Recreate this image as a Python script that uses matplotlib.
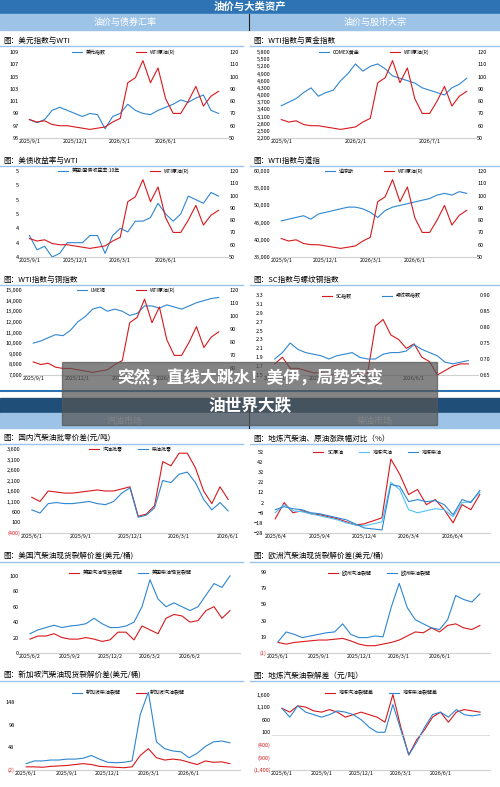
import matplotlib
matplotlib.use("Agg")
import matplotlib.pyplot as plt
from matplotlib.patches import Rectangle
from matplotlib.ticker import FuncFormatter

plt.rcParams['font.family'] = ['Noto Sans CJK SC', 'DejaVu Sans']

RED = '#d7191c'; BLUE = '#2e86d1'; LBLUE = '#4fc3f7'
DARK = '#2e74b5'; LIGHT = '#9dc3e6'

# ---------------- data ----------------
top_ticks = ['2025/9/1', '2025/12/1', '2026/3/1', '2026/6/1']
top_tick_idx = [0, 6, 12, 18]
gold_ticks = ['2025/9/1', '2026/2/1', '2026/7/1']
gold_tick_idx = [0, 10, 20]
wti = [65, 63, 64, 61, 60, 60, 59, 58, 57, 58, 59, 63, 66, 95, 99, 113, 95, 107, 82, 70, 70, 80, 92, 76, 84, 88]
usd = [98, 97.5, 98, 99.5, 100, 99.5, 99, 98.5, 99, 98.8, 96.5, 98.5, 99, 100.5, 99.5, 99, 98.8, 99.5, 100, 100.5, 101.2, 100.8, 101.5, 102, 99.5, 99]
gold = [3550, 3700, 3850, 4100, 4300, 3950, 4100, 4200, 4600, 4900, 5300, 5000, 5200, 5300, 5100, 4800, 4700, 4600, 4500, 4300, 4200, 4100, 4000, 4300, 4450, 4700]
ust10 = [4.3, 4.1, 4.15, 4.0, 4.05, 4.2, 4.2, 4.2, 4.3, 4.3, 4.05, 4.3, 4.4, 4.35, 4.5, 4.5, 4.55, 4.75, 4.6, 4.5, 4.6, 4.85, 4.8, 4.75, 4.9, 4.85]
dow = [45500, 46000, 46500, 47000, 46000, 47500, 48000, 48500, 49000, 49500, 49500, 49000, 48000, 46500, 48500, 49500, 50000, 50500, 51000, 51500, 52000, 53000, 53500, 53000, 54000, 53500]
copper = [10000, 10200, 10500, 10800, 10700, 11200, 12000, 12500, 13200, 13400, 13000, 13200, 13000, 12600, 12800, 13500, 13500, 13300, 13600, 13400, 13200, 13500, 13800, 14000, 14200, 14300]
sc_idx = [1.75, 1.9, 1.65, 1.65, 1.6, 1.55, 1.55, 1.5, 1.5, 1.45, 1.5, 1.5, 1.55, 2.6, 2.75, 2.4, 2.3, 2.1, 2.2, 1.9, 1.8, 1.5, 1.6, 1.7, 1.75, 1.75]
rebar = [0.70, 0.72, 0.75, 0.73, 0.72, 0.715, 0.71, 0.70, 0.71, 0.715, 0.72, 0.705, 0.70, 0.70, 0.715, 0.72, 0.72, 0.725, 0.745, 0.73, 0.72, 0.71, 0.69, 0.685, 0.69, 0.695]

cn_gas = [1300, 1100, 1600, 1550, 1500, 1500, 1550, 1600, 1650, 1600, 1600, 1700, 1800, 400, 500, 900, 3000, 2800, 3400, 3400, 2700, 1600, 1000, 1800, 1200]
cn_dsl = [700, 550, 1000, 1050, 1000, 1000, 1050, 1100, 1000, 950, 1100, 1500, 1750, 350, 450, 800, 2100, 2000, 2400, 2500, 2000, 1200, 700, 1050, 650]

chg_sc = [-14, 2, -8, -6, -9, -10, -12, -14, -17, -20, -19, -16, -13, 45, 30, 10, 15, 0, 5, -5, -18, 0, -5, 10]
chg_gas = [-8, 0, -6, -7, -9, -11, -13, -15, -18, -20, -21, -19, -17, 22, 15, -5, -8, -6, -4, -5, -12, 2, 3, 12]
chg_dsl = [-5, -2, -4, -5, -8, -9, -11, -13, -15, -19, -23, -24, -25, 20, 18, 3, 5, 3, 4, 0, -10, 5, 2, 14]

us_ticks = ['2025/6/2', '2025/9/2', '2025/12/2', '2026/3/2', '2026/6/2']
eu_ticks = ['2025/6/1', '2025/9/1', '2025/12/1', '2026/3/1', '2026/6/1']
crack_tick_idx = [0, 5, 10, 15, 20]
us_gas = [18, 22, 22, 25, 20, 18, 18, 20, 18, 15, 17, 27, 27, 17, 35, 30, 25, 45, 50, 48, 40, 42, 55, 60, 45, 55]
us_dsl = [25, 30, 33, 36, 33, 35, 36, 38, 45, 38, 33, 33, 35, 40, 60, 95, 70, 60, 65, 60, 55, 60, 75, 90, 85, 100]
eu_gas = [12, 10, 12, 13, 14, 15, 15, 16, 17, 14, 10, 8, 8, 10, 12, 15, 20, 25, 24, 30, 25, 33, 35, 30, 28, 33]
eu_dsl = [13, 25, 22, 18, 20, 22, 24, 25, 35, 22, 18, 18, 20, 19, 55, 85, 55, 40, 35, 30, 28, 40, 70, 65, 62, 72]
sg_dsl = [12, 18, 18, 20, 20, 22, 22, 24, 30, 22, 15, 14, 15, 18, 120, 170, 60, 45, 40, 38, 25, 35, 50, 60, 62, 58]
sg_gas = [5, 5, 4, 6, 7, 8, 10, 12, 10, 6, 5, 4, 3, 5, 30, 45, 25, 20, 22, 20, 15, 10, 18, 15, 16, 12]
dl_gas = [1050, 900, 1150, 1100, 950, 900, 1000, 900, 700, 800, 900, 800, 700, 500, 1600, 300, -800, -200, 200, 700, 900, 500, 900, 1000, 950, 900]
dl_dsl = [1050, 700, 1150, 900, 800, 700, 800, 950, 900, 800, 600, 300, 100, 100, 1200, 200, -800, -300, 300, 800, 900, 700, 1000, 800, 750, 800]

# ---------------- layout helpers ----------------
W, H = 500, 787
fig = plt.figure(figsize=(5, 7.87), dpi=100)
fig.patch.set_facecolor('white')

def band(y0, y1, color, x0=0, x1=500):
    fig.patches.append(Rectangle((x0 / W, 1 - y1 / H), (x1 - x0) / W, (y1 - y0) / H,
                                 transform=fig.transFigure, color=color, zorder=0))

def hline(y, x0, x1, color=LIGHT, lw=1.2):
    fig.add_artist(plt.Line2D([x0 / W, x1 / W], [1 - y / H, 1 - y / H], color=color, lw=lw))

def ftext(x, y, s, **kw):
    fig.text(x / W, 1 - y / H, s, **kw)

def fmt_paren(v, pos):
    if v < 0:
        return '({:,.0f})'.format(-v)
    return '{:,.0f}'.format(v)

def make_ax(x0, y0, x1, y1):
    ax = fig.add_axes([x0 / W, 1 - y1 / H, (x1 - x0) / W, (y1 - y0) / H])
    for s in ax.spines.values():
        s.set_visible(False)
    ax.spines['bottom'].set_visible(True)
    ax.spines['bottom'].set_color('#d0d0d0')
    ax.tick_params(labelsize=4, length=0, pad=1)
    ax.set_facecolor('none')
    return ax

def panel(title, tx, ty, x0, y0, x1, y1):
    ftext(tx, ty, title, fontsize=5.5, va='center')
    hline(ty + 5, tx - 3, tx + 240 if tx < 240 else 500, lw=1)
    return make_ax(x0, y0, x1, y1)

def xticks(ax, idx, labels):
    ax.set_xticks(idx)
    ax.set_xticklabels(labels, fontsize=3.8)

def leg(ax, ncol=2, **kw):
    ax.legend(loc='upper center', bbox_to_anchor=(0.5, 1.08), ncol=ncol, frameon=False,
              fontsize=3.6, handlelength=2, columnspacing=3, **kw)

# ---------------- headers ----------------
band(0, 13, DARK)
ftext(250, 6.5, '油价与大类资产', color='white', fontsize=7.5, ha='center', va='center', weight='bold')
band(14, 30, LIGHT)
fig.add_artist(plt.Line2D([249 / W, 249 / W], [1 - 14 / H, 1 - 30 / H], color='#222', lw=0.8))
ftext(125, 22, '油价与债券汇率', color='white', fontsize=6.5, ha='center', va='center')
ftext(375, 22, '油价与股市大宗', color='white', fontsize=6.5, ha='center', va='center')

# Row 1 left
ax = panel('图：美元指数与WTI', 3, 41, 20, 52, 228, 138)
ax2 = ax.twinx()
ax.plot(usd, color=BLUE, lw=0.8, label='美元指数')
ax2.plot(wti, color=RED, lw=0.8, label='WTI原油(R)')
ax.set_ylim(95, 109); ax.set_yticks(range(95, 110, 2))
ax2.set_ylim(50, 120); ax2.set_yticks(range(50, 121, 10))
for s in ax2.spines.values(): s.set_visible(False)
ax2.tick_params(labelsize=4, length=0, pad=1)
xticks(ax, top_tick_idx, top_ticks)
h1, l1 = ax.get_legend_handles_labels(); h2, l2 = ax2.get_legend_handles_labels()
ax.legend(h1 + h2, l1 + l2, loc='upper center', bbox_to_anchor=(0.5, 1.08), ncol=2, frameon=False, fontsize=3.6, columnspacing=6)

def twin(ax, right, rlim, rticks, lab_l, lab_r, cl=BLUE, cr=RED, left=None):
    ax2 = ax.twinx()
    ax.plot(left, color=cl, lw=0.8, label=lab_l)
    ax2.plot(right, color=cr, lw=0.8, label=lab_r)
    ax2.set_ylim(*rlim); ax2.set_yticks(rticks)
    for s in ax2.spines.values(): s.set_visible(False)
    ax2.tick_params(labelsize=4, length=0, pad=1)
    h1, l1 = ax.get_legend_handles_labels(); h2, l2 = ax2.get_legend_handles_labels()
    ax.legend(h1 + h2, l1 + l2, loc='upper center', bbox_to_anchor=(0.5, 1.08), ncol=2, frameon=False, fontsize=3.6, columnspacing=6)
    return ax2

# Row 1 right
ax = panel('图：WTI指数与黄金指数', 253, 41, 272, 52, 476, 138)
twin(ax, wti, (50, 120), range(50, 121, 10), 'COMEX黄金', 'WTI原油(R)', left=gold)
ax.set_ylim(2200, 5800); ax.set_yticks(range(2200, 5801, 300))
ax.yaxis.set_major_formatter(FuncFormatter(fmt_paren))
xticks(ax, gold_tick_idx, gold_ticks)

# Row 2 left
ax = panel('图：美债收益率与WTI', 3, 161, 20, 171, 228, 257)
twin(ax, wti, (50, 120), range(50, 121, 10), '美国:国债收益率:10年', 'WTI原油(R)', left=ust10)
ax.set_ylim(4.0, 5.2); ax.set_yticks([4.0, 4.2, 4.4, 4.6, 4.8, 5.0, 5.2])
ax.yaxis.set_major_formatter(FuncFormatter(lambda v, p: '%d' % round(v)))
xticks(ax, top_tick_idx, top_ticks)

# Row 2 right
ax = panel('图：WTI指数与道指', 253, 161, 272, 171, 476, 257)
twin(ax, wti, (50, 120), range(50, 121, 10), '道琼斯', 'WTI原油(R)', left=dow)
ax.set_ylim(35000, 60000); ax.set_yticks(range(35000, 60001, 5000))
ax.yaxis.set_major_formatter(FuncFormatter(fmt_paren))
xticks(ax, top_tick_idx, top_ticks)

# Row 3 left
ax = panel('图：WTI指数与铜指数', 3, 280, 24, 290, 228, 375)
twin(ax, wti, (55, 120), range(60, 121, 10), 'LME铜', 'WTI原油(R)', left=copper)
ax.set_ylim(7000, 15000); ax.set_yticks(range(7000, 15001, 1000))
ax.yaxis.set_major_formatter(FuncFormatter(fmt_paren))
xticks(ax, top_tick_idx, ['2025/9/1', '2025/12/1', '2026/3/1', '2026/6/1'])

# Row 3 right
ax = panel('图：SC指数与螺纹钢指数', 253, 280, 265, 295, 478, 375)
twin(ax, rebar, (0.65, 0.90), [0.65, 0.70, 0.75, 0.80, 0.85, 0.90], 'SC指数', '螺纹钢指数', cl=RED, cr=BLUE, left=sc_idx)
ax.set_ylim(1.5, 3.3); ax.set_yticks([1.5, 1.7, 1.9, 2.1, 2.3, 2.5, 2.7, 2.9, 3.1, 3.3])
ax.get_figure().axes[-1].yaxis.set_major_formatter(FuncFormatter(lambda v, p: '%.2f' % v))
xticks(ax, top_tick_idx, ['2025/9/1', '2025/12/1', '2026/3/1', '2026/6/1'])

# ---------------- section 2 ----------------
hline(391, 0, 500, color=DARK, lw=1.5)
band(398, 413, '#1f4e79')
band(413, 428, LIGHT)
fig.add_artist(plt.Line2D([249 / W, 249 / W], [1 - 398 / H, 1 - 428 / H], color='#222', lw=0.8))
ftext(125, 421, '汽油市场', color='white', fontsize=6.5, ha='center', va='center')
ftext(375, 421, '柴油市场', color='white', fontsize=6.5, ha='center', va='center')

# Row 4 left
ax = panel('图：国内汽柴油批零价差(元/吨)', 3, 439, 22, 449, 238, 533)
ax.plot(cn_gas, color=RED, lw=0.8, label='汽油批零')
ax.plot(cn_dsl, color=BLUE, lw=0.8, label='柴油批零')
ax.set_ylim(-400, 3600); ax.set_yticks(range(-400, 3601, 500))
ax.yaxis.set_major_formatter(FuncFormatter(fmt_paren))
ax.get_yticklabels()[0].set_color(RED)
xticks(ax, [0, 6, 12, 18, 24], ['2025/6/1', '2025/9/1', '2025/12/1', '2026/3/1', '2026/6/1'])
leg(ax)

# Row 4 right
ax = panel('图：地炼汽柴油、原油涨跌幅对比（%）', 253, 439, 265, 452, 490, 533)
ax.plot(chg_sc, color=RED, lw=0.8, label='SC原油')
ax.plot(chg_gas, color=LBLUE, lw=0.8, label='地炼汽油')
ax.plot(chg_dsl, color=BLUE, lw=0.8, label='地炼柴油')
ax.set_ylim(-28, 52); ax.set_yticks(range(-28, 53, 10))
xticks(ax, [0, 5, 10, 15, 20], ['2025/6/4', '2025/9/4', '2025/12/4', '2026/3/4', '2026/6/4'])
leg(ax, ncol=3)

# Row 5 left
ax = panel('图：美国汽柴油现货裂解价差(美元/桶)', 3, 557, 20, 572, 240, 653)
ax.plot(us_gas, color=RED, lw=0.8, label='美国汽油现货裂解')
ax.plot(us_dsl, color=BLUE, lw=0.8, label='美国柴油现货裂解')
ax.set_ylim(0, 105); ax.set_yticks(range(0, 101, 20))
xticks(ax, crack_tick_idx, us_ticks)
leg(ax)

# Row 5 right
ax = panel('图：欧洲汽柴油现货裂解价差(美元/桶)', 253, 557, 268, 572, 490, 653)
ax.plot(eu_gas, color=RED, lw=0.8, label='欧洲汽油裂解')
ax.plot(eu_dsl, color=BLUE, lw=0.8, label='欧洲柴油裂解')
ax.set_ylim(-1, 99); ax.set_yticks(range(-1, 100, 20))
ax.yaxis.set_major_formatter(FuncFormatter(fmt_paren))
ax.get_yticklabels()[0].set_color(RED)
xticks(ax, crack_tick_idx, eu_ticks)
leg(ax)

# Row 6 left
ax = panel('图：新加坡汽柴油现货裂解价差(美元/桶)', 3, 676, 16, 692, 240, 770)
ax.plot(sg_dsl, color=BLUE, lw=0.8, label='新加坡柴油裂解')
ax.plot(sg_gas, color=RED, lw=0.8, label='新加坡汽油裂解')
ax.set_ylim(-2, 170); ax.set_yticks([-2, 48, 98, 148])
ax.yaxis.set_major_formatter(FuncFormatter(fmt_paren))
ax.get_yticklabels()[0].set_color(RED)
xticks(ax, crack_tick_idx, eu_ticks)
leg(ax)

# Row 6 right
ax = panel('图：地炼汽柴油裂解差（元/吨）', 253, 676, 272, 692, 490, 770)
ax.plot(dl_gas, color=RED, lw=0.8, label='地炼汽油裂解差')
ax.plot(dl_dsl, color=BLUE, lw=0.8, label='地炼柴油裂解差')
ax.set_ylim(-1400, 1700); ax.set_yticks(range(-1400, 1601, 500))
ax.yaxis.set_major_formatter(FuncFormatter(fmt_paren))
for t in ax.get_yticklabels()[:3]:
    t.set_color(RED)
ax.axhline(0, color='#d0d0d0', lw=0.5)
xticks(ax, crack_tick_idx, eu_ticks)
leg(ax)

# ---------------- overlay banner ----------------
fig.patches.append(Rectangle((62 / W, 1 - 425 / H), 375 / W, 63 / H, transform=fig.transFigure,
                             color='#555555', alpha=0.72, zorder=10))
fig.text(250 / W, 1 - 379 / H, '突然，直线大跳水！美伊，局势突变', color='white', fontsize=12,
         weight='bold', ha='center', va='center', zorder=11)
fig.text(250 / W, 1 - 406 / H, '油世界大跌', color='white', fontsize=12,
         weight='bold', ha='center', va='center', zorder=11)

fig.savefig('out.png', dpi=100)
